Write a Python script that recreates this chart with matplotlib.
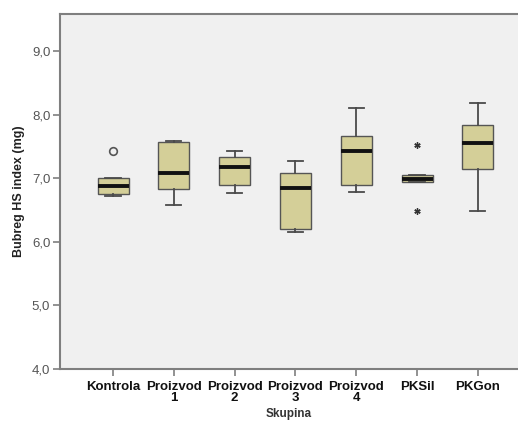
import matplotlib
matplotlib.use("Agg")
import matplotlib.pyplot as plt
from matplotlib import font_manager

# Group labels and box statistics (kidney HS index, mg)
groups = ["Kontrola", "Proizvod\n1", "Proizvod\n2", "Proizvod\n3", "Proizvod\n4", "PKSil", "PKGon"]
whisker_low = [6.72, 6.58, 6.76, 6.15, 6.79, 6.94, 6.49]
q1 = [6.75, 6.83, 6.89, 6.20, 6.90, 6.94, 7.14]
median = [6.88, 7.08, 7.17, 6.84, 7.43, 6.99, 7.55]
q3 = [7.00, 7.57, 7.34, 7.08, 7.66, 7.05, 7.83]
whisker_high = [7.00, 7.58, 7.43, 7.27, 8.10, 7.05, 8.18]
# outliers (circles) and extreme values (stars) per group index
outlier_group = [0]
outlier_value = [7.43]
extreme_group = [5, 5]
extreme_value = [7.52, 6.48]

y_ticks = [4.0, 5.0, 6.0, 7.0, 8.0, 9.0]
y_tick_labels = ["4,0", "5,0", "6,0", "7,0", "8,0", "9,0"]

installed = {f.name for f in font_manager.fontManager.ttflist}
label_family = ["Liberation Sans Narrow", "Liberation Sans"] if "Liberation Sans Narrow" in installed else ["Liberation Sans"]

plt.rcParams["font.family"] = ["Liberation Sans", "DejaVu Sans"]

fig = plt.figure(figsize=(5.18, 4.28), dpi=100)
W, H = 518, 428
left, right, top, bottom = 60, 518, 14, 369
ax = fig.add_axes([left / W, (H - bottom) / H, (right - left) / W, (bottom - top) / H])
ax.set_facecolor("#f0f0f0")

positions = list(range(len(groups)))
stats = []
for i in positions:
    stats.append({
        "med": median[i], "q1": q1[i], "q3": q3[i],
        "whislo": whisker_low[i], "whishi": whisker_high[i],
        "fliers": [], "label": groups[i],
    })

edge = "#4a4a4a"
ax.bxp(
    stats, positions=positions, widths=0.51, patch_artist=True, showfliers=False,
    boxprops=dict(facecolor="#d4cf98", edgecolor="#555555", linewidth=1.0),
    medianprops=dict(color="#111111", linewidth=2.8, solid_capstyle="butt"),
    whiskerprops=dict(color=edge, linewidth=1.3),
    capprops=dict(color=edge, linewidth=1.3),
    capwidths=0.25,
)

ax.plot(outlier_group, outlier_value, linestyle="none", marker="o", markersize=5.5,
        markerfacecolor="none", markeredgecolor="#555555", markeredgewidth=1.2)
ax.plot(extreme_group, extreme_value, linestyle="none", marker=(6, 2, 0), markersize=4.5,
        color="#333333", markeredgewidth=1.0)

ax.set_xlim(-0.872, (right - 113) / 60.8)
ax.set_ylim(4.0, 4.0 + (bottom - top) / 63.6)

ax.set_yticks(y_ticks)
ax.set_yticklabels(y_tick_labels, color="#555555", fontsize=9.5)
ax.set_xticks(positions)
ax.set_xticklabels(groups, fontsize=9.5, fontweight="bold", color="#111111",
                   family=label_family, linespacing=0.85)

for side in ("left", "bottom", "top"):
    ax.spines[side].set_color("#7f7f7f")
    ax.spines[side].set_linewidth(1.5)
ax.spines["right"].set_visible(False)
ax.tick_params(axis="both", direction="out", length=5, width=1.2, color="#7f7f7f")
ax.tick_params(axis="y", pad=2)
ax.tick_params(axis="x", pad=4)

ax.set_xlabel("Skupina", fontsize=8.5, fontweight="bold", color="#333333", labelpad=3)
ax.set_ylabel("Bubreg HS index (mg)", fontsize=9, fontweight="bold", color="#222222", labelpad=5)

fig.savefig("out.png", dpi=100, facecolor="white")
